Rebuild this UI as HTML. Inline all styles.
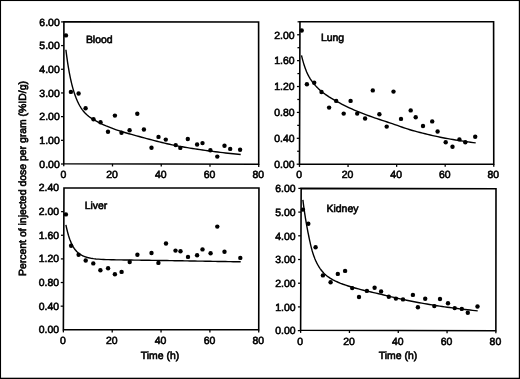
<!DOCTYPE html>
<html><head><meta charset="utf-8"><title>Tissue distribution</title>
<style>
html,body{margin:0;padding:0;background:#fff;}
body{width:520px;height:379px;overflow:hidden;position:relative;font-family:"Liberation Sans",sans-serif;}
</style></head><body>
<svg width="520" height="379" viewBox="0 0 520 379" style="position:absolute;left:0;top:0">
<rect x="0" y="0" width="520" height="379" fill="#fff"/>
<rect x="0" y="0" width="520" height="1.05" fill="#000"/>
<rect x="0" y="0" width="1.05" height="379" fill="#000"/>
<rect x="518.8" y="0" width="1.2" height="379" fill="#000"/>
<rect x="0" y="377.7" width="520" height="1.3" fill="#000"/>
<defs><filter id="soft" x="-2%" y="-2%" width="104%" height="104%"><feGaussianBlur stdDeviation="0.4"/></filter></defs>
<g filter="url(#soft)" font-family="'Liberation Sans', sans-serif" font-size="10.45px" text-rendering="geometricPrecision" fill="#000" stroke="#000" stroke-width="0.6">
<polygon points="63.9,21.92 258.6,22.0 258.73,164.3 63.76,163.7" fill="none" stroke="#000" stroke-width="1.6" stroke-linejoin="miter"/>
<line x1="61.10" y1="21.90" x2="63.90" y2="21.90" stroke="#000" stroke-width="1.25"/>
<text transform="translate(59.70,25.70) scale(1.0000,1)" text-anchor="end">6.00</text>
<line x1="61.08" y1="45.58" x2="63.88" y2="45.58" stroke="#000" stroke-width="1.25"/>
<text transform="translate(59.70,49.38) scale(1.0000,1)" text-anchor="end">5.00</text>
<line x1="61.05" y1="69.27" x2="63.85" y2="69.27" stroke="#000" stroke-width="1.25"/>
<text transform="translate(59.70,73.07) scale(1.0000,1)" text-anchor="end">4.00</text>
<line x1="61.03" y1="92.95" x2="63.83" y2="92.95" stroke="#000" stroke-width="1.25"/>
<text transform="translate(59.70,96.75) scale(1.0000,1)" text-anchor="end">3.00</text>
<line x1="61.01" y1="116.63" x2="63.81" y2="116.63" stroke="#000" stroke-width="1.25"/>
<text transform="translate(59.70,120.43) scale(1.0000,1)" text-anchor="end">2.00</text>
<line x1="60.98" y1="140.32" x2="63.78" y2="140.32" stroke="#000" stroke-width="1.25"/>
<text transform="translate(59.70,144.12) scale(1.0000,1)" text-anchor="end">1.00</text>
<line x1="60.96" y1="164.00" x2="63.76" y2="164.00" stroke="#000" stroke-width="1.25"/>
<text transform="translate(59.70,167.80) scale(1.0000,1)" text-anchor="end">0.00</text>
<line x1="63.76" y1="163.70" x2="63.76" y2="166.30" stroke="#000" stroke-width="1.3"/>
<text transform="translate(63.31,177.60) scale(1.0000,1)" text-anchor="middle">0</text>
<line x1="112.50" y1="163.85" x2="112.50" y2="166.45" stroke="#000" stroke-width="1.3"/>
<text transform="translate(112.05,177.60) scale(1.0000,1)" text-anchor="middle">20</text>
<line x1="161.25" y1="164.00" x2="161.25" y2="166.60" stroke="#000" stroke-width="1.3"/>
<text transform="translate(160.80,177.60) scale(1.0000,1)" text-anchor="middle">40</text>
<line x1="209.99" y1="164.15" x2="209.99" y2="166.75" stroke="#000" stroke-width="1.3"/>
<text transform="translate(209.54,177.60) scale(1.0000,1)" text-anchor="middle">60</text>
<line x1="258.73" y1="164.30" x2="258.73" y2="166.90" stroke="#000" stroke-width="1.3"/>
<text transform="translate(258.28,177.60) scale(1.0000,1)" text-anchor="middle">80</text>
<text transform="translate(85.90,42.70) scale(1.0000,1)" text-anchor="start">Blood</text>
<path d="M65.90,49.75 L66.32,53.17 L66.75,56.41 L67.17,59.47 L67.59,62.37 L68.02,65.11 L68.44,67.71 L68.87,70.17 L69.29,72.51 L69.71,74.73 L70.14,76.84 L70.56,78.85 L70.98,80.77 L71.41,82.59 L71.83,84.33 L72.26,86.00 L72.68,87.59 L73.10,89.10 L73.53,90.55 L73.95,91.93 L74.37,93.25 L74.80,94.51 L75.22,95.71 L75.65,96.86 L76.07,97.96 L76.49,99.01 L76.92,100.02 L77.34,100.98 L77.76,101.91 L78.19,102.79 L78.61,103.64 L79.04,104.46 L79.46,105.24 L79.88,105.99 L80.31,106.70 L80.73,107.39 L81.15,108.05 L81.58,108.69 L82.00,109.30 L82.43,109.88 L82.85,110.44 L83.27,110.97 L83.70,111.49 L84.12,111.98 L84.54,112.46 L84.97,112.92 L85.39,113.36 L85.82,113.78 L86.24,114.19 L86.66,114.59 L87.09,114.97 L87.51,115.34 L87.93,115.69 L88.36,116.04 L88.78,116.37 L89.21,116.69 L89.63,117.01 L90.05,117.31 L90.48,117.61 L90.90,117.90 L93.44,119.51 L95.98,120.96 L98.52,122.31 L101.06,123.58 L103.59,124.77 L106.13,125.90 L108.67,126.96 L111.21,127.97 L113.75,128.93 L116.29,129.84 L118.83,130.70 L121.37,131.51 L123.91,132.29 L126.45,133.03 L128.98,133.74 L131.52,134.45 L134.06,135.16 L136.60,135.86 L139.14,136.55 L141.68,137.24 L144.22,137.92 L146.76,138.60 L149.30,139.28 L151.84,139.94 L154.37,140.60 L156.91,141.25 L159.45,141.88 L161.99,142.51 L164.53,143.11 L167.07,143.70 L169.61,144.26 L172.15,144.81 L174.69,145.33 L177.23,145.83 L179.76,146.32 L182.30,146.78 L184.84,147.23 L187.38,147.67 L189.92,148.09 L192.46,148.50 L195.00,148.90 L197.54,149.29 L200.08,149.67 L202.62,150.03 L205.15,150.39 L207.69,150.74 L210.23,151.08 L212.77,151.41 L215.31,151.73 L217.85,152.05 L220.39,152.35 L222.93,152.65 L225.47,152.95 L228.01,153.23 L230.54,153.51 L233.08,153.78 L235.62,154.05 L238.16,154.31 L240.70,154.56" fill="none" stroke="#000" stroke-width="1.4" stroke-linejoin="round"/>
<circle cx="65.95" cy="35.4" r="2.2" stroke="none"/>
<circle cx="70.9" cy="91.9" r="2.2" stroke="none"/>
<circle cx="78.6" cy="93.5" r="2.2" stroke="none"/>
<circle cx="85.6" cy="108.3" r="2.2" stroke="none"/>
<circle cx="93.5" cy="119.2" r="2.2" stroke="none"/>
<circle cx="100.5" cy="122.2" r="2.2" stroke="none"/>
<circle cx="108.0" cy="131.7" r="2.2" stroke="none"/>
<circle cx="114.9" cy="115.6" r="2.2" stroke="none"/>
<circle cx="121.5" cy="132.7" r="2.2" stroke="none"/>
<circle cx="129.6" cy="130.3" r="2.2" stroke="none"/>
<circle cx="137.3" cy="113.7" r="2.2" stroke="none"/>
<circle cx="143.9" cy="129.5" r="2.2" stroke="none"/>
<circle cx="151.5" cy="147.8" r="2.2" stroke="none"/>
<circle cx="158.5" cy="136.9" r="2.2" stroke="none"/>
<circle cx="165.8" cy="139.6" r="2.2" stroke="none"/>
<circle cx="175.7" cy="145.1" r="2.2" stroke="none"/>
<circle cx="180.3" cy="147.9" r="2.2" stroke="none"/>
<circle cx="187.8" cy="139.0" r="2.2" stroke="none"/>
<circle cx="197.1" cy="144.5" r="2.2" stroke="none"/>
<circle cx="202.5" cy="143.1" r="2.2" stroke="none"/>
<circle cx="210.4" cy="150.2" r="2.2" stroke="none"/>
<circle cx="217.3" cy="156.6" r="2.2" stroke="none"/>
<circle cx="224.5" cy="145.7" r="2.2" stroke="none"/>
<circle cx="230.2" cy="148.9" r="2.2" stroke="none"/>
<circle cx="240.1" cy="149.7" r="2.2" stroke="none"/>
<polygon points="299.95,21.8 493.6,21.82 493.76,164.26 299.5,164.3" fill="none" stroke="#000" stroke-width="1.6" stroke-linejoin="miter"/>
<line x1="297.11" y1="34.75" x2="299.91" y2="34.75" stroke="#000" stroke-width="1.25"/>
<text transform="translate(294.60,38.55) scale(1.0000,1)" text-anchor="end">2.00</text>
<line x1="297.03" y1="60.64" x2="299.83" y2="60.64" stroke="#000" stroke-width="1.25"/>
<text transform="translate(294.60,64.44) scale(1.0000,1)" text-anchor="end">1.60</text>
<line x1="296.95" y1="86.53" x2="299.75" y2="86.53" stroke="#000" stroke-width="1.25"/>
<text transform="translate(294.60,90.33) scale(1.0000,1)" text-anchor="end">1.20</text>
<line x1="296.86" y1="112.42" x2="299.66" y2="112.42" stroke="#000" stroke-width="1.25"/>
<text transform="translate(294.60,116.22) scale(1.0000,1)" text-anchor="end">0.80</text>
<line x1="296.78" y1="138.31" x2="299.58" y2="138.31" stroke="#000" stroke-width="1.25"/>
<text transform="translate(294.60,142.11) scale(1.0000,1)" text-anchor="end">0.40</text>
<line x1="296.70" y1="164.20" x2="299.50" y2="164.20" stroke="#000" stroke-width="1.25"/>
<text transform="translate(294.60,168.00) scale(1.0000,1)" text-anchor="end">0.00</text>
<line x1="297.55" y1="21.80" x2="299.95" y2="21.80" stroke="#000" stroke-width="1.25"/>
<line x1="297.47" y1="47.69" x2="299.87" y2="47.69" stroke="#000" stroke-width="1.25"/>
<line x1="297.39" y1="73.58" x2="299.79" y2="73.58" stroke="#000" stroke-width="1.25"/>
<line x1="297.30" y1="99.47" x2="299.70" y2="99.47" stroke="#000" stroke-width="1.25"/>
<line x1="297.22" y1="125.36" x2="299.62" y2="125.36" stroke="#000" stroke-width="1.25"/>
<line x1="297.14" y1="151.25" x2="299.54" y2="151.25" stroke="#000" stroke-width="1.25"/>
<line x1="299.50" y1="164.30" x2="299.50" y2="166.90" stroke="#000" stroke-width="1.3"/>
<text transform="translate(299.05,177.50) scale(1.0000,1)" text-anchor="middle">0</text>
<line x1="348.06" y1="164.29" x2="348.06" y2="166.89" stroke="#000" stroke-width="1.3"/>
<text transform="translate(347.62,177.50) scale(1.0000,1)" text-anchor="middle">20</text>
<line x1="396.63" y1="164.28" x2="396.63" y2="166.88" stroke="#000" stroke-width="1.3"/>
<text transform="translate(396.18,177.50) scale(1.0000,1)" text-anchor="middle">40</text>
<line x1="445.19" y1="164.27" x2="445.19" y2="166.87" stroke="#000" stroke-width="1.3"/>
<text transform="translate(444.75,177.50) scale(1.0000,1)" text-anchor="middle">60</text>
<line x1="493.76" y1="164.26" x2="493.76" y2="166.86" stroke="#000" stroke-width="1.3"/>
<text transform="translate(493.31,177.50) scale(1.0000,1)" text-anchor="middle">80</text>
<text transform="translate(320.90,40.70) scale(1.0000,1)" text-anchor="start">Lung</text>
<path d="M301.50,55.38 L301.92,57.13 L302.35,58.80 L302.77,60.38 L303.19,61.90 L303.62,63.34 L304.04,64.71 L304.47,66.03 L304.89,67.28 L305.31,68.47 L305.74,69.61 L306.16,70.69 L306.58,71.73 L307.01,72.71 L307.43,73.65 L307.86,74.55 L308.28,75.40 L308.70,76.21 L309.13,76.97 L309.55,77.70 L309.97,78.40 L310.40,79.05 L310.82,79.68 L311.25,80.28 L311.67,80.87 L312.09,81.45 L312.52,82.01 L312.94,82.57 L313.36,83.11 L313.79,83.64 L314.21,84.17 L314.64,84.67 L315.06,85.17 L315.48,85.65 L315.91,86.12 L316.33,86.58 L316.75,87.02 L317.18,87.46 L317.60,87.88 L318.03,88.30 L318.45,88.71 L318.87,89.11 L319.30,89.49 L319.72,89.88 L320.14,90.25 L320.57,90.62 L320.99,90.98 L321.42,91.33 L321.84,91.68 L322.26,92.02 L322.69,92.36 L323.11,92.69 L323.53,93.02 L323.96,93.34 L324.38,93.65 L324.81,93.96 L325.23,94.27 L325.65,94.57 L326.08,94.87 L326.50,95.16 L329.03,96.84 L331.56,98.41 L334.09,99.90 L336.62,101.34 L339.14,102.72 L341.67,104.05 L344.20,105.34 L346.73,106.58 L349.26,107.78 L351.79,108.94 L354.32,110.05 L356.85,111.13 L359.37,112.17 L361.90,113.18 L364.43,114.15 L366.96,115.10 L369.49,116.02 L372.02,116.91 L374.55,117.79 L377.08,118.64 L379.61,119.49 L382.13,120.32 L384.66,121.16 L387.19,121.99 L389.72,122.83 L392.25,123.69 L394.78,124.56 L397.31,125.45 L399.84,126.35 L402.36,127.25 L404.89,128.11 L407.42,128.94 L409.95,129.72 L412.48,130.47 L415.01,131.19 L417.54,131.87 L420.07,132.53 L422.59,133.17 L425.12,133.80 L427.65,134.40 L430.18,134.99 L432.71,135.56 L435.24,136.12 L437.77,136.66 L440.30,137.19 L442.83,137.69 L445.35,138.19 L447.88,138.66 L450.41,139.12 L452.94,139.56 L455.47,139.99 L458.00,140.40 L460.53,140.80 L463.06,141.18 L465.58,141.55 L468.11,141.91 L470.64,142.26 L473.17,142.60 L475.70,142.93" fill="none" stroke="#000" stroke-width="1.4" stroke-linejoin="round"/>
<circle cx="301.7" cy="30.5" r="2.2" stroke="none"/>
<circle cx="306.9" cy="84.3" r="2.2" stroke="none"/>
<circle cx="314.2" cy="82.7" r="2.2" stroke="none"/>
<circle cx="321.5" cy="92.0" r="2.2" stroke="none"/>
<circle cx="329.1" cy="107.6" r="2.2" stroke="none"/>
<circle cx="336.2" cy="100.9" r="2.2" stroke="none"/>
<circle cx="343.7" cy="113.6" r="2.2" stroke="none"/>
<circle cx="350.6" cy="100.9" r="2.2" stroke="none"/>
<circle cx="357.2" cy="113.6" r="2.2" stroke="none"/>
<circle cx="365.1" cy="118.5" r="2.2" stroke="none"/>
<circle cx="372.8" cy="90.4" r="2.2" stroke="none"/>
<circle cx="379.4" cy="114.2" r="2.2" stroke="none"/>
<circle cx="386.7" cy="126.6" r="2.2" stroke="none"/>
<circle cx="393.5" cy="91.6" r="2.2" stroke="none"/>
<circle cx="401.0" cy="118.9" r="2.2" stroke="none"/>
<circle cx="410.7" cy="110.4" r="2.2" stroke="none"/>
<circle cx="415.7" cy="117.3" r="2.2" stroke="none"/>
<circle cx="423.0" cy="126.0" r="2.2" stroke="none"/>
<circle cx="432.2" cy="121.4" r="2.2" stroke="none"/>
<circle cx="437.6" cy="131.5" r="2.2" stroke="none"/>
<circle cx="445.7" cy="142.2" r="2.2" stroke="none"/>
<circle cx="452.5" cy="146.8" r="2.2" stroke="none"/>
<circle cx="459.4" cy="139.4" r="2.2" stroke="none"/>
<circle cx="465.3" cy="142.3" r="2.2" stroke="none"/>
<circle cx="475.2" cy="136.8" r="2.2" stroke="none"/>
<polygon points="63.98,188.0 258.95,188.0 258.73,329.8 63.37,329.8" fill="none" stroke="#000" stroke-width="1.6" stroke-linejoin="miter"/>
<text transform="translate(59.10,191.35) scale(1.0000,1)" text-anchor="end">2.40</text>
<line x1="61.08" y1="211.63" x2="63.88" y2="211.63" stroke="#000" stroke-width="1.25"/>
<text transform="translate(59.10,214.98) scale(1.0000,1)" text-anchor="end">2.00</text>
<line x1="60.98" y1="235.27" x2="63.78" y2="235.27" stroke="#000" stroke-width="1.25"/>
<text transform="translate(59.10,238.62) scale(1.0000,1)" text-anchor="end">1.60</text>
<line x1="60.88" y1="258.90" x2="63.67" y2="258.90" stroke="#000" stroke-width="1.25"/>
<text transform="translate(59.10,262.25) scale(1.0000,1)" text-anchor="end">1.20</text>
<line x1="60.77" y1="282.53" x2="63.57" y2="282.53" stroke="#000" stroke-width="1.25"/>
<text transform="translate(59.10,285.88) scale(1.0000,1)" text-anchor="end">0.80</text>
<line x1="60.67" y1="306.17" x2="63.47" y2="306.17" stroke="#000" stroke-width="1.25"/>
<text transform="translate(59.10,309.52) scale(1.0000,1)" text-anchor="end">0.40</text>
<text transform="translate(59.10,333.15) scale(1.0000,1)" text-anchor="end">0.00</text>
<line x1="63.37" y1="329.80" x2="63.37" y2="332.40" stroke="#000" stroke-width="1.3"/>
<text transform="translate(62.92,344.40) scale(1.0000,1)" text-anchor="middle">0</text>
<line x1="112.21" y1="329.80" x2="112.21" y2="332.40" stroke="#000" stroke-width="1.3"/>
<text transform="translate(111.76,344.40) scale(1.0000,1)" text-anchor="middle">20</text>
<line x1="161.05" y1="329.80" x2="161.05" y2="332.40" stroke="#000" stroke-width="1.3"/>
<text transform="translate(160.60,344.40) scale(1.0000,1)" text-anchor="middle">40</text>
<line x1="209.89" y1="329.80" x2="209.89" y2="332.40" stroke="#000" stroke-width="1.3"/>
<text transform="translate(209.44,344.40) scale(1.0000,1)" text-anchor="middle">60</text>
<line x1="258.73" y1="329.80" x2="258.73" y2="332.40" stroke="#000" stroke-width="1.3"/>
<text transform="translate(258.28,344.40) scale(1.0000,1)" text-anchor="middle">80</text>
<text transform="translate(84.70,208.70) scale(1.0000,1)" text-anchor="start">Liver</text>
<path d="M65.90,224.79 L66.32,226.82 L66.75,228.73 L67.17,230.52 L67.59,232.19 L68.02,233.76 L68.44,235.24 L68.87,236.62 L69.29,237.92 L69.71,239.14 L70.14,240.29 L70.56,241.37 L70.98,242.39 L71.41,243.34 L71.83,244.24 L72.26,245.09 L72.68,245.88 L73.10,246.63 L73.53,247.34 L73.95,248.00 L74.37,248.63 L74.80,249.22 L75.22,249.78 L75.65,250.30 L76.07,250.79 L76.49,251.26 L76.92,251.70 L77.34,252.11 L77.76,252.51 L78.19,252.88 L78.61,253.22 L79.04,253.55 L79.46,253.87 L79.88,254.16 L80.31,254.44 L80.73,254.70 L81.15,254.96 L81.58,255.19 L82.00,255.42 L82.43,255.63 L82.85,255.83 L83.27,256.03 L83.70,256.21 L84.12,256.38 L84.54,256.55 L84.97,256.70 L85.39,256.85 L85.82,256.99 L86.24,257.13 L86.66,257.25 L87.09,257.38 L87.51,257.49 L87.93,257.60 L88.36,257.71 L88.78,257.80 L89.21,257.90 L89.63,257.99 L90.05,258.08 L90.48,258.16 L90.90,258.24 L93.44,258.63 L95.98,258.93 L98.52,259.16 L101.06,259.34 L103.59,259.47 L106.13,259.58 L108.67,259.66 L111.21,259.73 L113.75,259.78 L116.29,259.83 L118.83,259.87 L121.37,259.91 L123.91,259.95 L126.45,259.98 L128.98,260.02 L131.52,260.05 L134.06,260.08 L136.60,260.12 L139.14,260.15 L141.68,260.19 L144.22,260.22 L146.76,260.26 L149.30,260.29 L151.84,260.33 L154.37,260.37 L156.91,260.41 L159.45,260.45 L161.99,260.49 L164.53,260.53 L167.07,260.57 L169.61,260.61 L172.15,260.65 L174.69,260.69 L177.23,260.73 L179.76,260.78 L182.30,260.82 L184.84,260.86 L187.38,260.91 L189.92,260.95 L192.46,261.00 L195.00,261.04 L197.54,261.08 L200.08,261.13 L202.62,261.17 L205.15,261.22 L207.69,261.26 L210.23,261.31 L212.77,261.35 L215.31,261.39 L217.85,261.44 L220.39,261.48 L222.93,261.53 L225.47,261.57 L228.01,261.61 L230.54,261.66 L233.08,261.70 L235.62,261.74 L238.16,261.78 L240.70,261.82" fill="none" stroke="#000" stroke-width="1.4" stroke-linejoin="round"/>
<circle cx="65.9" cy="214.4" r="2.2" stroke="none"/>
<circle cx="71.1" cy="245.7" r="2.2" stroke="none"/>
<circle cx="78.6" cy="254.8" r="2.2" stroke="none"/>
<circle cx="85.7" cy="260.5" r="2.2" stroke="none"/>
<circle cx="93.3" cy="263.4" r="2.2" stroke="none"/>
<circle cx="100.4" cy="270.2" r="2.2" stroke="none"/>
<circle cx="108.1" cy="268.2" r="2.2" stroke="none"/>
<circle cx="114.9" cy="274.3" r="2.2" stroke="none"/>
<circle cx="121.6" cy="271.9" r="2.2" stroke="none"/>
<circle cx="129.7" cy="262.0" r="2.2" stroke="none"/>
<circle cx="137.4" cy="254.7" r="2.2" stroke="none"/>
<circle cx="151.5" cy="253.0" r="2.2" stroke="none"/>
<circle cx="158.4" cy="262.9" r="2.2" stroke="none"/>
<circle cx="166.0" cy="243.5" r="2.2" stroke="none"/>
<circle cx="175.5" cy="250.6" r="2.2" stroke="none"/>
<circle cx="180.5" cy="251.2" r="2.2" stroke="none"/>
<circle cx="188.0" cy="256.9" r="2.2" stroke="none"/>
<circle cx="197.1" cy="255.3" r="2.2" stroke="none"/>
<circle cx="202.5" cy="249.4" r="2.2" stroke="none"/>
<circle cx="210.6" cy="253.2" r="2.2" stroke="none"/>
<circle cx="217.3" cy="226.6" r="2.2" stroke="none"/>
<circle cx="224.5" cy="251.8" r="2.2" stroke="none"/>
<circle cx="240.3" cy="257.9" r="2.2" stroke="none"/>
<polygon points="301.15,188.4 496.0,188.8 495.87,330.7 300.63,330.3" fill="none" stroke="#000" stroke-width="1.6" stroke-linejoin="miter"/>
<line x1="298.35" y1="188.40" x2="301.15" y2="188.40" stroke="#000" stroke-width="1.25"/>
<text transform="translate(295.50,192.20) scale(1.0000,1)" text-anchor="end">6.00</text>
<line x1="298.26" y1="212.10" x2="301.06" y2="212.10" stroke="#000" stroke-width="1.25"/>
<text transform="translate(295.50,215.90) scale(1.0000,1)" text-anchor="end">5.00</text>
<line x1="298.18" y1="235.80" x2="300.98" y2="235.80" stroke="#000" stroke-width="1.25"/>
<text transform="translate(295.50,239.60) scale(1.0000,1)" text-anchor="end">4.00</text>
<line x1="298.09" y1="259.50" x2="300.89" y2="259.50" stroke="#000" stroke-width="1.25"/>
<text transform="translate(295.50,263.30) scale(1.0000,1)" text-anchor="end">3.00</text>
<line x1="298.00" y1="283.20" x2="300.80" y2="283.20" stroke="#000" stroke-width="1.25"/>
<text transform="translate(295.50,287.00) scale(1.0000,1)" text-anchor="end">2.00</text>
<line x1="297.92" y1="306.90" x2="300.72" y2="306.90" stroke="#000" stroke-width="1.25"/>
<text transform="translate(295.50,310.70) scale(1.0000,1)" text-anchor="end">1.00</text>
<line x1="297.83" y1="330.60" x2="300.63" y2="330.60" stroke="#000" stroke-width="1.25"/>
<text transform="translate(295.50,334.40) scale(1.0000,1)" text-anchor="end">0.00</text>
<line x1="300.63" y1="330.30" x2="300.63" y2="332.90" stroke="#000" stroke-width="1.3"/>
<text transform="translate(300.18,344.50) scale(1.0000,1)" text-anchor="middle">0</text>
<line x1="349.44" y1="330.40" x2="349.44" y2="333.00" stroke="#000" stroke-width="1.3"/>
<text transform="translate(348.99,344.50) scale(1.0000,1)" text-anchor="middle">20</text>
<line x1="398.25" y1="330.50" x2="398.25" y2="333.10" stroke="#000" stroke-width="1.3"/>
<text transform="translate(397.80,344.50) scale(1.0000,1)" text-anchor="middle">40</text>
<line x1="447.06" y1="330.60" x2="447.06" y2="333.20" stroke="#000" stroke-width="1.3"/>
<text transform="translate(446.61,344.50) scale(1.0000,1)" text-anchor="middle">60</text>
<line x1="495.87" y1="330.70" x2="495.87" y2="333.30" stroke="#000" stroke-width="1.3"/>
<text transform="translate(495.42,344.50) scale(1.0000,1)" text-anchor="middle">80</text>
<text transform="translate(326.50,211.90) scale(1.0000,1)" text-anchor="start">Kidney</text>
<path d="M302.90,199.80 L303.32,203.30 L303.75,206.60 L304.17,209.71 L304.59,212.65 L305.02,215.45 L305.44,218.12 L305.87,220.67 L306.29,223.12 L306.71,225.50 L307.14,227.81 L307.56,230.07 L307.98,232.27 L308.41,234.42 L308.83,236.51 L309.26,238.55 L309.68,240.53 L310.10,242.46 L310.53,244.32 L310.95,246.10 L311.37,247.81 L311.80,249.42 L312.22,250.94 L312.65,252.37 L313.07,253.72 L313.49,254.98 L313.92,256.19 L314.34,257.32 L314.76,258.41 L315.19,259.44 L315.61,260.43 L316.04,261.37 L316.46,262.27 L316.88,263.13 L317.31,263.96 L317.73,264.75 L318.15,265.50 L318.58,266.23 L319.00,266.92 L319.43,267.58 L319.85,268.22 L320.27,268.83 L320.70,269.42 L321.12,269.98 L321.54,270.52 L321.97,271.04 L322.39,271.54 L322.82,272.03 L323.24,272.49 L323.66,272.94 L324.09,273.38 L324.51,273.79 L324.93,274.20 L325.36,274.59 L325.78,274.97 L326.21,275.33 L326.63,275.68 L327.05,276.02 L327.48,276.35 L327.90,276.67 L330.44,278.39 L332.98,279.83 L335.52,281.10 L338.06,282.24 L340.59,283.29 L343.13,284.26 L345.67,285.15 L348.21,285.99 L350.75,286.78 L353.29,287.52 L355.83,288.23 L358.37,288.92 L360.91,289.57 L363.45,290.21 L365.98,290.83 L368.52,291.43 L371.06,292.02 L373.60,292.60 L376.14,293.19 L378.68,293.78 L381.22,294.38 L383.76,294.99 L386.30,295.60 L388.84,296.21 L391.37,296.81 L393.91,297.40 L396.45,297.98 L398.99,298.56 L401.53,299.12 L404.07,299.67 L406.61,300.20 L409.15,300.73 L411.69,301.24 L414.23,301.73 L416.76,302.22 L419.30,302.69 L421.84,303.15 L424.38,303.60 L426.92,304.04 L429.46,304.47 L432.00,304.88 L434.54,305.29 L437.08,305.69 L439.62,306.08 L442.15,306.45 L444.69,306.82 L447.23,307.19 L449.77,307.54 L452.31,307.88 L454.85,308.22 L457.39,308.55 L459.93,308.86 L462.47,309.18 L465.01,309.48 L467.54,309.78 L470.08,310.07 L472.62,310.35 L475.16,310.62 L477.70,310.89" fill="none" stroke="#000" stroke-width="1.4" stroke-linejoin="round"/>
<circle cx="302.9" cy="209.6" r="2.2" stroke="none"/>
<circle cx="308.3" cy="223.8" r="2.2" stroke="none"/>
<circle cx="315.6" cy="247.3" r="2.2" stroke="none"/>
<circle cx="322.9" cy="275.4" r="2.2" stroke="none"/>
<circle cx="330.6" cy="282.2" r="2.2" stroke="none"/>
<circle cx="337.8" cy="273.9" r="2.2" stroke="none"/>
<circle cx="345.1" cy="270.9" r="2.2" stroke="none"/>
<circle cx="352.2" cy="288.1" r="2.2" stroke="none"/>
<circle cx="359.0" cy="297.0" r="2.2" stroke="none"/>
<circle cx="366.9" cy="290.9" r="2.2" stroke="none"/>
<circle cx="374.6" cy="287.7" r="2.2" stroke="none"/>
<circle cx="381.1" cy="291.5" r="2.2" stroke="none"/>
<circle cx="388.8" cy="296.7" r="2.2" stroke="none"/>
<circle cx="395.9" cy="298.6" r="2.2" stroke="none"/>
<circle cx="403.0" cy="299.4" r="2.2" stroke="none"/>
<circle cx="412.9" cy="294.9" r="2.2" stroke="none"/>
<circle cx="417.9" cy="307.3" r="2.2" stroke="none"/>
<circle cx="425.2" cy="298.8" r="2.2" stroke="none"/>
<circle cx="434.3" cy="306.1" r="2.2" stroke="none"/>
<circle cx="440.0" cy="299.0" r="2.2" stroke="none"/>
<circle cx="448.0" cy="303.2" r="2.2" stroke="none"/>
<circle cx="454.7" cy="308.1" r="2.2" stroke="none"/>
<circle cx="461.8" cy="308.9" r="2.2" stroke="none"/>
<circle cx="467.8" cy="312.7" r="2.2" stroke="none"/>
<circle cx="477.5" cy="306.5" r="2.2" stroke="none"/>
<text transform="translate(160.00,359.30) scale(1.0000,1)" text-anchor="middle">Time (h)</text>
<text transform="translate(398.00,359.30) scale(1.0000,1)" text-anchor="middle">Time (h)</text>
<text transform="translate(26.2,178.5) rotate(-90) scale(1.0000,1)" text-anchor="middle">Percent of injected dose per gram (%ID/g)</text>
</g></svg>
</body></html>
